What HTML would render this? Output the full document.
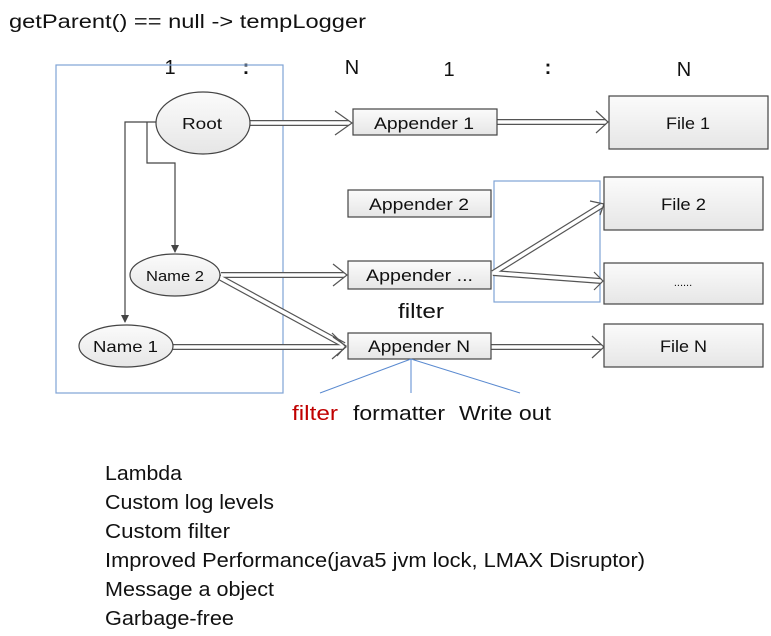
<!DOCTYPE html>
<html><head><meta charset="utf-8"><style>
html,body{margin:0;padding:0;background:#fff;}
body{width:771px;height:636px;position:relative;overflow:hidden;font-family:"Liberation Sans",sans-serif;}
svg{position:absolute;left:0;top:0;}
</style></head><body>
<svg width="771" height="636" viewBox="0 0 771 636" font-family="Liberation Sans, sans-serif">
<defs>
<linearGradient id="g" x1="0" y1="0" x2="0" y2="1"><stop offset="0" stop-color="#fbfbfb"/><stop offset="1" stop-color="#e6e6e6"/></linearGradient>
<marker id="ah" markerWidth="8" markerHeight="8" refX="7" refY="4" orient="auto" markerUnits="userSpaceOnUse"><path d="M0,0 L8,4 L0,8 z" fill="#444"/></marker>
</defs>
<text x="9" y="28" font-size="19" fill="#111" textLength="357" lengthAdjust="spacingAndGlyphs">getParent()  == null -&gt; tempLogger</text>
<g font-size="20" fill="#111" text-anchor="middle">
<text x="170" y="74">1</text><text x="246" y="74" font-weight="bold">:</text><text x="352" y="74">N</text>
<text x="449" y="76">1</text><text x="548" y="74" font-weight="bold">:</text><text x="684" y="76">N</text>
</g>
<rect x="56" y="65" width="227" height="328" fill="none" stroke="#7fa4d6" stroke-width="1.2"/>
<rect x="494" y="181" width="106" height="121" fill="none" stroke="#7fa4d6" stroke-width="1.2"/>
<polyline points="157,122 125,122 125,322" fill="none" stroke="#444" stroke-width="1.2" marker-end="url(#ah)"/>
<polyline points="147,122 147,163 175,163 175,252" fill="none" stroke="#444" stroke-width="1.2" marker-end="url(#ah)"/>
<g fill="none" stroke-linejoin="miter">
<g stroke="#555" stroke-width="6">
<line x1="249" y1="123" x2="349" y2="123"/><line x1="497" y1="122" x2="606" y2="122"/>
<line x1="221" y1="275" x2="344" y2="275"/><line x1="219" y1="277" x2="344" y2="345"/>
<line x1="172" y1="347" x2="344" y2="347"/><line x1="491" y1="347" x2="601" y2="347"/>
<line x1="493" y1="273" x2="601" y2="206"/><line x1="493" y1="273" x2="601" y2="281"/>
</g>
<g stroke="#fff" stroke-width="3.6">
<line x1="249" y1="123" x2="349" y2="123"/><line x1="497" y1="122" x2="606" y2="122"/>
<line x1="221" y1="275" x2="344" y2="275"/><line x1="219" y1="277" x2="344" y2="345"/>
<line x1="172" y1="347" x2="344" y2="347"/><line x1="491" y1="347" x2="601" y2="347"/>
<line x1="493" y1="273" x2="601" y2="206"/><line x1="493" y1="273" x2="601" y2="281"/>
</g>
<g stroke="#555" stroke-width="1.2">
<polyline points="335,111 352,123 335,135"/><polyline points="596,111 608,122 596,133"/>
<polyline points="333,264 347,275 333,286"/><polyline points="332,333 346,347 332,359"/>
<polyline points="333,337 346,346 337,356"/><polyline points="592,336 604,347 592,358"/>
<polyline points="590,201 604,204 600,215"/><polyline points="594,272 603,281 594,290"/>
</g>
</g>
<g fill="url(#g)" stroke="#444" stroke-width="1.2">
<ellipse cx="203" cy="123" rx="47" ry="31"/>
<ellipse cx="175" cy="275" rx="45" ry="21"/>
<ellipse cx="126" cy="346" rx="47" ry="21"/>
</g>
<g font-size="16" fill="#111" lengthAdjust="spacingAndGlyphs">
<text x="182" y="129" textLength="40" lengthAdjust="spacingAndGlyphs">Root</text>
<text x="146" y="281" font-size="15" textLength="58" lengthAdjust="spacingAndGlyphs">Name 2</text>
<text x="93" y="352" textLength="65" lengthAdjust="spacingAndGlyphs">Name 1</text>
</g>
<g fill="url(#g)" stroke="#444" stroke-width="1.2">
<rect x="353" y="109" width="144" height="26"/>
<rect x="348" y="190" width="143" height="27"/>
<rect x="348" y="261" width="143" height="28"/>
<rect x="348" y="333" width="143" height="26"/>
<rect x="609" y="96" width="159" height="53"/>
<rect x="604" y="177" width="159" height="53"/>
<rect x="604" y="263" width="159" height="41"/>
<rect x="604" y="324" width="159" height="43"/>
</g>
<g font-size="17" fill="#111">
<text x="374" y="129" textLength="100" lengthAdjust="spacingAndGlyphs">Appender 1</text>
<text x="369" y="210" textLength="100" lengthAdjust="spacingAndGlyphs">Appender 2</text>
<text x="366" y="281" textLength="107" lengthAdjust="spacingAndGlyphs">Appender ...</text>
<text x="368" y="352" textLength="102" lengthAdjust="spacingAndGlyphs">Appender N</text>
<text x="666" y="129" textLength="44" lengthAdjust="spacingAndGlyphs">File 1</text>
<text x="661" y="210" textLength="45" lengthAdjust="spacingAndGlyphs">File 2</text>
<text x="683" y="286" font-size="11" text-anchor="middle">......</text>
<text x="660" y="352" textLength="47" lengthAdjust="spacingAndGlyphs">File N</text>
</g>
<text x="398" y="318" font-size="20" fill="#111" textLength="46" lengthAdjust="spacingAndGlyphs">filter</text>
<g stroke="#5a8ad0" stroke-width="1">
<line x1="411" y1="359" x2="320" y2="393"/><line x1="411" y1="359" x2="411" y2="393"/><line x1="411" y1="359" x2="520" y2="393"/>
</g>
<g font-size="20">
<text x="292" y="420" fill="#c00000" textLength="46" lengthAdjust="spacingAndGlyphs">filter</text>
<text x="353" y="420" fill="#111" textLength="92" lengthAdjust="spacingAndGlyphs">formatter</text>
<text x="459" y="420" fill="#111" textLength="92" lengthAdjust="spacingAndGlyphs">Write out</text>
</g>
<g font-size="20" fill="#111">
<text x="105" y="480" textLength="77" lengthAdjust="spacingAndGlyphs">Lambda</text>
<text x="105" y="509" textLength="169" lengthAdjust="spacingAndGlyphs">Custom log levels</text>
<text x="105" y="538" textLength="125" lengthAdjust="spacingAndGlyphs">Custom filter</text>
<text x="105" y="567" textLength="540" lengthAdjust="spacingAndGlyphs">Improved Performance(java5 jvm lock, LMAX Disruptor)</text>
<text x="105" y="596" textLength="169" lengthAdjust="spacingAndGlyphs">Message a object</text>
<text x="105" y="625" textLength="129" lengthAdjust="spacingAndGlyphs">Garbage-free</text>
</g>
</svg>
</body></html>
